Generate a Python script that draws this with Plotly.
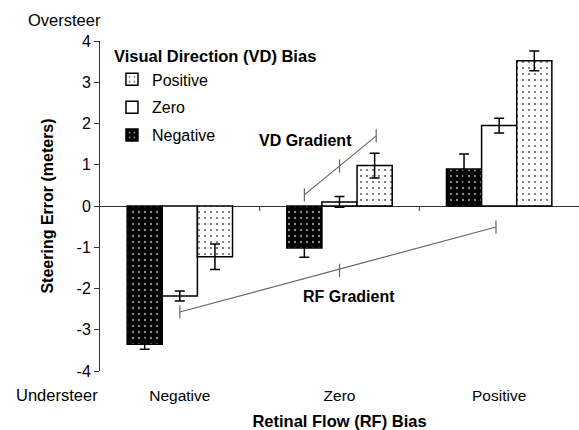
import plotly.graph_objects as go

# Retinal Flow (RF) bias categories on the x axis
rf_bias = ["Negative", "Zero", "Positive"]

# Visual Direction (VD) bias series: mean steering error and error bar
vd_negative = [-3.35, -1.02, 0.90]
vd_negative_err = [0.12, 0.22, 0.36]
vd_zero = [-2.18, 0.10, 1.95]
vd_zero_err = [0.12, 0.13, 0.18]
vd_positive = [-1.23, 0.98, 3.52]
vd_positive_err = [0.31, 0.30, 0.24]

y_ticks = [-4, -3, -2, -1, 0, 1, 2, 3, 4]
y_ticktext = ["-4", "-3", "-2", "-1", "0", "1", "2", "3", "4"]

# gradient guide lines (start, middle, end) in data units
vd_grad_x = [0.78, 1.0, 1.23]
vd_grad_y = [0.27, 0.97, 1.70]
rf_grad_x = [0.0, 1.0, 1.98]
rf_grad_y = [-2.57, -1.56, -0.51]

FONT = "Liberation Sans, Arial, sans-serif"
xs = list(range(len(rf_bias)))

series = [
    ("Negative", vd_negative, vd_negative_err,
     dict(color="black", pattern=dict(shape=".", bgcolor="black", fgcolor="#8a8a8a",
                                      size=6, solidity=0.12, fillmode="replace"))),
    ("Zero", vd_zero, vd_zero_err, dict(color="white")),
    ("Positive", vd_positive, vd_positive_err,
     dict(color="white", pattern=dict(shape=".", bgcolor="white", fgcolor="#666666",
                                      size=6, solidity=0.1, fillmode="replace"))),
]

fig = go.Figure()
for i, (name, vals, errs, marker) in enumerate(series):
    marker["line"] = dict(color="black", width=1.5)
    fig.add_trace(go.Bar(
        x=xs, y=vals, name=name, marker=marker,
        legendgroup=name, legendrank=len(series) - i,
        error_y=dict(type="data", array=errs, color="black", thickness=1.5, width=5),
    ))

shapes = []
# zero line ticks between categories
for i in range(len(rf_bias) - 1):
    shapes.append(dict(type="line", xref="x", yref="y", x0=i + 0.5, x1=i + 0.5,
                       y0=0, y1=-0.12, line=dict(color="#333", width=1)))
for gx, gy in [(vd_grad_x, vd_grad_y), (rf_grad_x, rf_grad_y)]:
    shapes.append(dict(type="line", xref="x", yref="y", x0=gx[0], x1=gx[-1],
                       y0=gy[0], y1=gy[-1], line=dict(color="#666", width=1.2)))
    for px_, py_ in zip(gx, gy):
        shapes.append(dict(type="line", xref="x", yref="y", x0=px_, x1=px_,
                           y0=py_ - 0.16, y1=py_ + 0.16, line=dict(color="#666", width=1.2)))

annotations = [
    dict(text="Oversteer", xref="paper", yref="paper", x=-0.075, y=1.064,
         xanchor="center", yanchor="middle", showarrow=False, font=dict(size=16.5)),
    dict(text="Understeer", xref="paper", yref="paper", x=-0.09, y=-0.073,
         xanchor="center", yanchor="middle", showarrow=False, font=dict(size=16.5)),
    dict(text="<b>VD Gradient</b>", xref="x", yref="y", x=0.79, y=1.6,
         xanchor="center", showarrow=False, font=dict(size=16)),
    dict(text="<b>RF Gradient</b>", xref="x", yref="y", x=1.06, y=-2.2,
         xanchor="center", showarrow=False, font=dict(size=16)),
]

fig.update_layout(
    width=579, height=430,
    margin=dict(l=100, r=0, t=41, b=59, autoexpand=False),
    paper_bgcolor="white", plot_bgcolor="white",
    font=dict(family=FONT, size=15, color="black"),
    barmode="group", bargap=0.34, bargroupgap=0,
    showlegend=True,
    legend=dict(
        title=dict(text="<b>Visual Direction (VD) Bias</b>", font=dict(size=16.5)),
        x=0.025, y=1.0, xanchor="left", yanchor="top",
        traceorder="grouped", tracegroupgap=4,
        font=dict(size=16), bgcolor="rgba(0,0,0,0)",
        itemwidth=30,
    ),
    shapes=shapes,
    annotations=annotations,
)
fig.update_xaxes(
    range=[-0.5, 2.5], tickvals=xs, ticktext=rf_bias, automargin=False,
    showline=False, showgrid=False, zeroline=False, ticks="",
    ticklabelstandoff=13, tickfont=dict(size=15.5),
    title=dict(text="<b>Retinal Flow (RF) Bias</b>", font=dict(size=16.5), standoff=16),
)
fig.update_yaxes(
    range=[-4, 4], tickvals=y_ticks, ticktext=y_ticktext, showgrid=False,
    automargin=False, tickfont=dict(size=16),
    showline=True, linecolor="#333", linewidth=1,
    ticks="outside", ticklen=5, tickcolor="#333",
    zeroline=True, zerolinecolor="#333", zerolinewidth=1,
    title=dict(text="<b>Steering Error (meters)</b>", font=dict(size=16), standoff=18),
)

fig.write_html("out.html", config={"displayModeBar": False},
               post_script="document.body.style.margin='0';document.body.style.overflow='hidden';")
